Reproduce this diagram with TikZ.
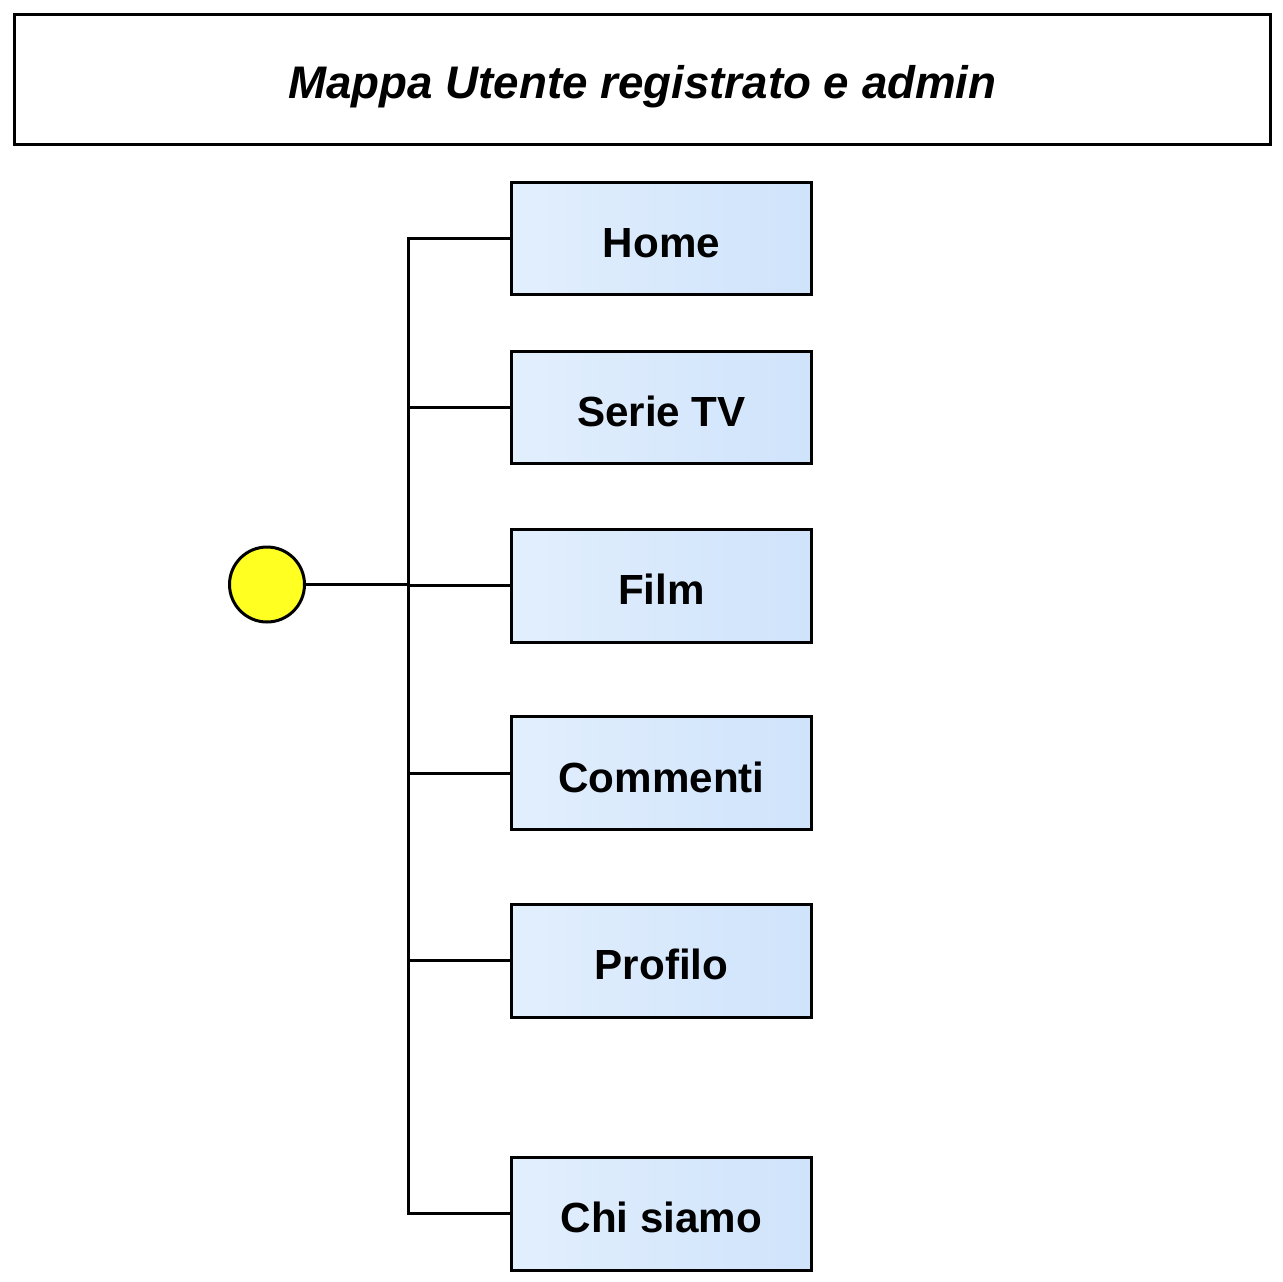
\documentclass[tikz,border=0pt]{standalone}
\usepackage{fontspec}
\setmainfont{Liberation Sans}
\definecolor{boxlight}{HTML}{E2EFFD}
\definecolor{boxdark}{HTML}{CFE3FB}
\definecolor{dotyellow}{HTML}{FFFF22}
\tikzset{
  page/.style={draw, line width=0.06cm, minimum width=6.02cm, minimum height=2.26cm,
    left color=boxlight, right color=boxdark, text height=21.8pt, text depth=0pt,
    font=\fontsize{24}{28}\selectfont\bfseries},
  titlebox/.style={draw, line width=0.06cm, minimum width=25.14cm, minimum height=2.62cm,
    text height=22.1pt, text depth=0pt, font=\fontsize{26}{30}\selectfont\bfseries\itshape},
  root/.style={draw, circle, line width=0.06cm, fill=dotyellow, minimum size=1.5cm, inner sep=0pt},
  link/.style={line width=0.06cm}
}
\begin{document}
\begin{tikzpicture}[x=0.02cm, y=-0.02cm]
        \useasboundingbox (0,0) rectangle (1283,1281);
        \node[titlebox] (title) at (642.5,79.5) {Mappa Utente registrato e admin};
        \node[page] (home) at (661.5,238.5) {Home};
        \node[page] (serie) at (661.5,407.5) {Serie TV};
        \node[page] (film) at (661.5,585.5) {Film};
        \node[page] (commenti) at (661.5,773) {Commenti};
        \node[page] (profilo) at (661.5,960.5) {Profilo};
        \node[page] (chi) at (661.5,1213.5) {Chi siamo};
        \node[root] (start) at (267,584.5) {};
        \coordinate (bus) at (408,585.5);
        \draw[link] (home.west) -| (bus) |- (chi.west);
        \draw[link] (start) -- (start -| bus);
        \draw[link] (bus) -- (film.west);
        \draw[link] (serie.west) -- (serie.west -| bus);
        \draw[link] (commenti.west) -- (commenti.west -| bus);
        \draw[link] (profilo.west) -- (profilo.west -| bus);
      \end{tikzpicture}
\end{document}
